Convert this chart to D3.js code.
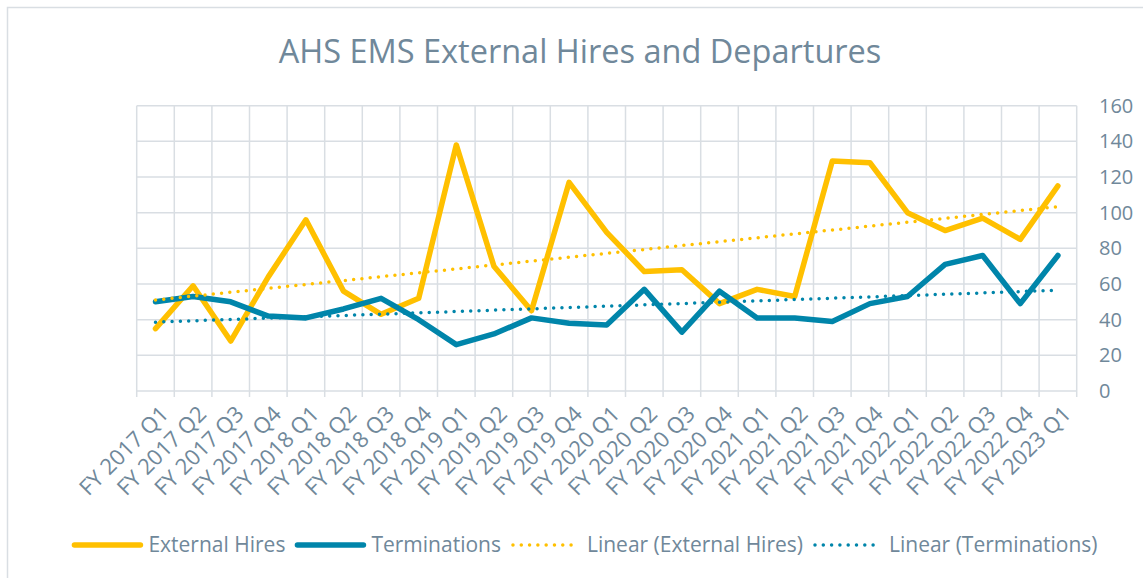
<!DOCTYPE html>
<html>
<head>
<meta charset="utf-8">
<script src="https://cdn.jsdelivr.net/npm/d3@7"></script>
<style>
  body { margin: 0; background: #fff; }
  svg { display: block; font-family: "Open Sans", sans-serif; }
</style>
</head>
<body>
<div id="chart"></div>
<script>
var quarters = ["FY 2017 Q1", "FY 2017 Q2", "FY 2017 Q3", "FY 2017 Q4",
  "FY 2018 Q1", "FY 2018 Q2", "FY 2018 Q3", "FY 2018 Q4",
  "FY 2019 Q1", "FY 2019 Q2", "FY 2019 Q3", "FY 2019 Q4",
  "FY 2020 Q1", "FY 2020 Q2", "FY 2020 Q3", "FY 2020 Q4",
  "FY 2021 Q1", "FY 2021 Q2", "FY 2021 Q3", "FY 2021 Q4",
  "FY 2022 Q1", "FY 2022 Q2", "FY 2022 Q3", "FY 2022 Q4",
  "FY 2023 Q1"];

var externalHires = [35, 59, 28, 64, 96, 56, 43, 52, 138, 70, 45, 117, 89,
  67, 68, 49, 57, 53, 129, 128, 100, 90, 97, 85, 115];

var terminations = [50, 53, 50, 42, 41, 46, 52, 40, 26, 32, 41, 38, 37,
  57, 33, 56, 41, 41, 39, 49, 53, 71, 76, 49, 76];

var yTicks = [0, 20, 40, 60, 80, 100, 120, 140, 160];

var yellow = "#FFC000";
var blue = "#0085AA";
var textColor = "#70889A";
var gridColor = "#D9DEE3";

var W = 1143, H = 578;
var plotLeft = 136.7, plotRight = 1076.7, plotTop = 105.7, plotBottom = 391;

// least squares fit, same as Excel "Linear" trendline
var linearFit = function (values) {
  var n = values.length;
  var sx = 0, sy = 0, sxy = 0, sxx = 0;
  values.forEach(function (v, i) {
    var x = i + 1;
    sx += x; sy += v; sxy += x * v; sxx += x * x;
  });
  var slope = (n * sxy - sx * sy) / (n * sxx - sx * sx);
  var icpt = (sy - slope * sx) / n;
  return values.map(function (v, i) { return icpt + slope * (i + 1); });
};

var svg = d3.select("#chart").append("svg")
  .attr("width", W).attr("height", H);

// chart border
svg.append("rect")
  .attr("x", 7.5).attr("y", 7.5)
  .attr("width", W).attr("height", H)
  .attr("fill", "none").attr("stroke", gridColor).attr("stroke-width", 1.5);

svg.append("text")
  .attr("x", 580).attr("y", 63)
  .attr("text-anchor", "middle")
  .attr("fill", textColor)
  .style("font-size", "32.5px")
  .text("AHS EMS External Hires and Departures");

var x = d3.scaleBand().domain(quarters).range([plotLeft, plotRight]);
var y = d3.scaleLinear().domain([0, 160]).range([plotBottom, plotTop]);

// horizontal grid
svg.append("g").selectAll("line").data(yTicks).enter().append("line")
  .attr("x1", plotLeft).attr("x2", plotRight)
  .attr("y1", function (d) { return y(d); })
  .attr("y2", function (d) { return y(d); })
  .attr("stroke", gridColor).attr("stroke-width", 1.5);

// vertical grid + tick marks below the axis
var edges = quarters.map(function (q) { return x(q); }).concat([plotRight]);
svg.append("g").selectAll("line").data(edges).enter().append("line")
  .attr("x1", function (d) { return d; })
  .attr("x2", function (d) { return d; })
  .attr("y1", plotTop).attr("y2", plotBottom + 6)
  .attr("stroke", gridColor).attr("stroke-width", 1.5);

// right y axis labels
var yAxis = d3.axisRight(y).tickValues(yTicks).tickSize(0).tickPadding(0);
var gy = svg.append("g").attr("transform", "translate(1099,0)").call(yAxis);
gy.select(".domain").remove();
gy.selectAll("text")
  .attr("fill", textColor)
  .style("font-size", "20px")
  .style("font-family", "Open Sans, sans-serif");

// x labels rotated
var xAxis = d3.axisBottom(x).tickSize(0).tickPadding(0);
var gx = svg.append("g").attr("transform", "translate(0," + plotBottom + ")").call(xAxis);
gx.select(".domain").remove();
gx.selectAll("text")
  .attr("fill", textColor)
  .style("font-size", "22px")
  .style("font-family", "Open Sans, sans-serif")
  .attr("text-anchor", "end")
  .attr("dy", "0.35em")
  .attr("transform", "translate(9,19) rotate(-45)")
  .attr("y", 0).attr("x", 0);

var cx = function (d, i) { return x(quarters[i]) + x.bandwidth() / 2; };
var lineFunc = d3.line().x(cx).y(function (d) { return y(d); });

var drawLine = function (data, stroke, width, dash) {
  var p = svg.append("path")
    .attr("d", lineFunc(data))
    .attr("fill", "none")
    .attr("stroke", stroke)
    .attr("stroke-width", width)
    .attr("stroke-linecap", "round")
    .attr("stroke-linejoin", "round");
  if (dash) p.attr("stroke-dasharray", dash);
};

drawLine(externalHires, yellow, 5.5);
drawLine(terminations, blue, 5.5);
drawLine(linearFit(externalHires), yellow, 3.5, "0 8.3");
drawLine(linearFit(terminations), blue, 3.5, "0 8.3");

// legend
var legendItems = [
  { name: "External Hires", color: yellow, width: 5.5, dash: null },
  { name: "Terminations", color: blue, width: 5.5, dash: null },
  { name: "Linear (External Hires)", color: yellow, width: 3.5, dash: "0 8.3" },
  { name: "Linear (Terminations)", color: blue, width: 3.5, dash: "0 8.3" }
];
var legend = svg.append("g");
var lx = 0, ly = 545;
legendItems.forEach(function (item) {
  var sample = legend.append("line")
    .attr("x1", lx + 2).attr("x2", lx + 68)
    .attr("y1", ly).attr("y2", ly)
    .attr("stroke", item.color)
    .attr("stroke-width", item.width)
    .attr("stroke-linecap", "round");
  if (item.dash) sample.attr("stroke-dasharray", item.dash);
  var t = legend.append("text")
    .attr("x", lx + 76).attr("y", ly).attr("dy", "0.35em")
    .attr("fill", textColor)
    .style("font-size", "21px")
    .text(item.name);
  lx += 76 + t.node().getComputedTextLength() + 10;
});
var lw = lx - 10;
legend.attr("transform", "translate(" + (585 - lw / 2) + ",0)");
</script>
</body>
</html>
